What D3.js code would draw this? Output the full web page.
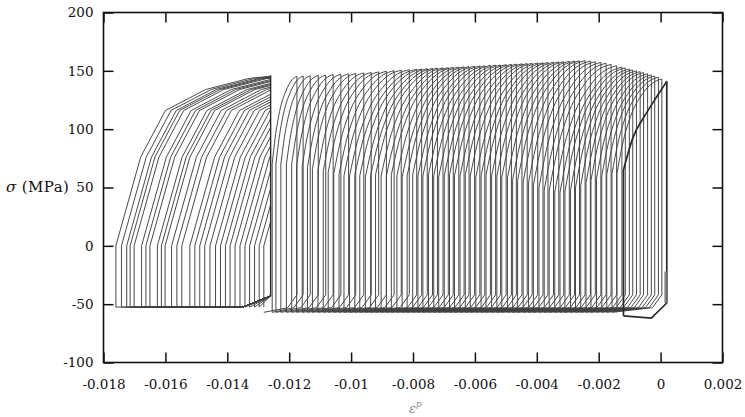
<!DOCTYPE html>
<html>
<head>
<meta charset="utf-8">
<script src="https://cdn.jsdelivr.net/npm/d3@7"></script>
<style>
  body { margin: 0; background: #fff; }
  svg text { font-family: "DejaVu Serif", "Liberation Serif", serif; }
</style>
</head>
<body>
<svg id="chart" width="745" height="417"></svg>
<script>
// ---- axis ticks ----
const xTickValues = [-0.018, -0.016, -0.014, -0.012, -0.01, -0.008, -0.006, -0.004, -0.002, 0, 0.002];
const xTickLabels = ["-0.018", "-0.016", "-0.014", "-0.012", "-0.01", "-0.008", "-0.006", "-0.004", "-0.002", "0", "0.002"];
const yTickValues = [-100, -50, 0, 50, 100, 150, 200];
const yTickLabels = ["-100", "-50", "0", "50", "100", "150", "200"];

// ---- first, stabilised loop (plastic strain, stress in MPa) ----
const firstReloadStrain = [-0.0012, -0.0012];
const firstReloadStress = [-60, 65];
const firstFlowStrain = [-0.0012, -0.00089, -0.0005, -0.00012, 0.0002];
const firstFlowStress = [65, 93, 112, 128, 141];
const firstReturnStrain = [0.0002, 0.0002, -0.0003, -0.0012];
const firstReturnStress = [141, -49, -62, -60];
const startStubStrain = [0.00016, 0.00016];
const startStubStress = [-22, -49];

// ---- ratcheting cycles with narrow loops ----
// plastic strain where tensile flow starts / ends, peak and flow-start stress
const narrowLeft = [
  -0.00141, -0.00157, -0.00174, -0.0019, -0.00207, -0.00225, -0.00241, -0.00258, -0.00275, -0.00291,
  -0.00309, -0.00325, -0.00342, -0.0036, -0.00376, -0.00393, -0.00411, -0.00427, -0.00444, -0.00462,
  -0.00478, -0.00495, -0.00513, -0.00529, -0.00546, -0.00564, -0.0058, -0.00597, -0.00615, -0.00631,
  -0.00648, -0.00666, -0.00682, -0.00699, -0.00717, -0.00733, -0.0075, -0.00768, -0.00784, -0.00801,
  -0.00819, -0.00835, -0.00852, -0.0087, -0.00886, -0.00903, -0.00921, -0.00937, -0.00954, -0.00972,
  -0.00988, -0.01005, -0.01023, -0.01039, -0.01056, -0.01074, -0.0109, -0.01107, -0.01125, -0.01141,
  -0.01158, -0.01176, -0.01192, -0.01209, -0.01227, -0.01243, -0.01255
];
const narrowRight = [
  0.00004, -0.00007, -0.00019, -0.0003, -0.00042, -0.00055, -0.00066, -0.00078, -0.0009, -0.00101,
  -0.00114, -0.00125, -0.00142, -0.0016, -0.00176, -0.00193, -0.00211, -0.00227, -0.00244, -0.00262,
  -0.00278, -0.00295, -0.00313, -0.00329, -0.00346, -0.00364, -0.0038, -0.00397, -0.00415, -0.00431,
  -0.00448, -0.00466, -0.00482, -0.00499, -0.00517, -0.00533, -0.0055, -0.00568, -0.00584, -0.00601,
  -0.00619, -0.00635, -0.00652, -0.0067, -0.00686, -0.00703, -0.00721, -0.00737, -0.00754, -0.00772,
  -0.00788, -0.00812, -0.00838, -0.00861, -0.00886, -0.00911, -0.00935, -0.00959, -0.00985, -0.01008,
  -0.01033, -0.01058, -0.01082, -0.01106, -0.01132, -0.01155, -0.01175
];
const narrowPeak = [
  143, 144.5, 145.5, 146.5, 147.5, 148.5, 149.3, 150, 150.8, 151.6,
  152.5, 153.2, 154.3, 155.5, 156.5, 157.2, 157.8, 158.3, 158.7, 158.5,
  158.3, 158.1, 157.8, 157.6, 157.4, 157.1, 156.9, 156.7, 156.4, 156.2,
  156, 155.7, 155.5, 155.3, 155, 154.8, 154.6, 154.3, 154.1, 153.9,
  153.6, 153.4, 153.2, 152.9, 152.7, 152.5, 152.2, 152, 151.8, 151.5,
  151.3, 150.9, 150.5, 150.1, 149.6, 149.1, 148.6, 148.2, 147.8, 147.4,
  147, 146.7, 146.4, 146.1, 145.8, 145.5, 145.3
];
const narrowYield = [
  62, 62, 61, 60, 58, 56, 54, 52, 50, 48,
  47, 46, 46, 47, 48, 50, 52, 54, 55, 56,
  57, 58, 59, 60, 60, 61, 60, 59, 60, 61,
  60, 60, 61, 60, 59, 60, 61, 60, 60, 61,
  60, 59, 60, 61, 60, 60, 61, 60, 59, 60,
  61, 60, 60, 61, 62, 63, 64, 65, 66, 67,
  68, 69, 70, 70, 70, 70, 70
];
// compressive branch: stress at unloading end, at the knee, at the reloading end
const narrowCompression = [-42, -53, -57];
const narrowKneeOffset = 0.0003;
// normalised shape of the tensile flow curve (strain fraction, stress fraction)
const flowShapeT = [0, 0.12, 0.3, 0.55, 0.8, 1];
const flowShapeS = [0, 0.3, 0.6, 0.83, 0.96, 1];

// ---- later cycles: wide loops sharing one unloading strain ----
const fanLeft = [
  -0.01282, -0.01297, -0.01312, -0.01328, -0.01343, -0.01359, -0.01375, -0.01391, -0.01406, -0.01422,
  -0.01438, -0.01456, -0.01473, -0.01489, -0.01505, -0.01521, -0.01547, -0.01563, -0.0158, -0.01601,
  -0.01613, -0.01626, -0.0165, -0.01663, -0.01677, -0.01701, -0.01714, -0.01725, -0.01742, -0.0176
];
const fanRight = -0.0126;
const fanUnloadStress = [146, -43];
// tensile flow curve measured from the flow-start strain
const fanOffset = [0, 0.0008, 0.0016, 0.0029, 0.0043, 0.0056];
const fanStress = [0, 76, 116, 134, 143.5, 147];
const fanCompression = [-43, -52.5];
const fanKneeOffset = 0.0009;

// ---- layout ----
const svg = d3.select("#chart");
const margin = { left: 103.5, right: 722.5, top: 12.5, bottom: 362.5 };
const x = d3.scaleLinear().domain([-0.018, 0.002]).range([margin.left, margin.right]);
const y = d3.scaleLinear().domain([-100, 200]).range([margin.bottom, margin.top]);

const lineLin = d3.line().x(d => x(d[0])).y(d => y(d[1]));
const lineSmooth = d3.line().x(d => x(d[0])).y(d => y(d[1])).curve(d3.curveMonotoneX);
const pairs = (xs, ys) => xs.map((v, i) => [v, ys[i]]);

svg.append("defs").append("clipPath").attr("id", "fanClip")
  .append("rect")
  .attr("x", 0).attr("y", 0)
  .attr("width", x(fanRight) + 0.4).attr("height", 417);

const loops = svg.append("g").attr("fill", "none")
  .attr("stroke", "#3f3f3f").attr("stroke-width", 0.95);

// narrow ratcheting cycles
narrowLeft.forEach((xl, k) => {
  const xr = narrowRight[k], peak = narrowPeak[k], y0 = narrowYield[k];
  const nextLeft = k + 1 < narrowLeft.length ? narrowLeft[k + 1] : fanLeft[0];
  // elastic reload
  loops.append("path").attr("d", lineLin([[xl, narrowCompression[2]], [xl, y0]]));
  // tensile flow
  const flow = flowShapeT.map((t, i) => [xl + t * (xr - xl), y0 + flowShapeS[i] * (peak - y0)]);
  loops.append("path").attr("d", lineSmooth(flow));
  // elastic unload and compressive flow
  loops.append("path").attr("d", lineLin([
    [xr, peak], [xr, narrowCompression[0]],
    [xr - narrowKneeOffset, narrowCompression[1]],
    [nextLeft, narrowCompression[2]]
  ]));
});

// wide loops on the left
const fanGroup = loops.append("g");
fanLeft.forEach((xl, j) => {
  fanGroup.append("path")
    .attr("clip-path", "url(#fanClip)")
    .attr("d", lineLin([[xl, fanCompression[1]], ...fanOffset.map((o, i) => [xl + o, fanStress[i]])]));
  if (j + 1 < fanLeft.length) {
    const nl = fanLeft[j + 1];
    const knee = Math.max(nl, fanRight - fanKneeOffset);
    fanGroup.append("path").attr("d", lineLin([
      [fanRight, fanCompression[0]], [knee, fanCompression[1]], [nl, fanCompression[1]]
    ]));
  }
});
// shared unloading line of the wide loops
loops.append("path")
  .attr("stroke", "#2a2a2a").attr("stroke-width", 1.4)
  .attr("d", lineLin([[fanRight, fanUnloadStress[0]], [fanRight, fanUnloadStress[1]]]));

// first loop, drawn heavier
const heavy = loops.append("g").attr("stroke", "#2a2a2a").attr("stroke-width", 1.7);
heavy.append("path").attr("d", lineLin(pairs(firstReloadStrain, firstReloadStress)));
heavy.append("path").attr("d", lineSmooth(pairs(firstFlowStrain, firstFlowStress)));
heavy.append("path").attr("d", lineLin(pairs(firstReturnStrain, firstReturnStress)));
loops.append("path")
  .attr("stroke", "#888").attr("stroke-width", 2.4)
  .attr("d", lineLin(pairs(startStubStrain, startStubStress)));

// ---- axes ----
const axisStyle = g => {
  g.select(".domain").remove();
  g.selectAll(".tick line").attr("stroke", "#111").attr("stroke-width", 1.5);
  g.selectAll(".tick text").attr("fill", "#111")
    .style("font-family", "'DejaVu Serif', serif").style("font-size", "13.5px");
};

svg.append("g").attr("transform", `translate(0,${margin.bottom})`)
  .call(d3.axisBottom(x).tickValues(xTickValues).tickFormat((d, i) => xTickLabels[i])
    .tickSize(-10).tickPadding(17))
  .call(axisStyle);
svg.append("g").attr("transform", `translate(0,${margin.top})`)
  .call(d3.axisTop(x).tickValues(xTickValues).tickFormat("").tickSize(-10))
  .call(axisStyle);
svg.append("g").attr("transform", `translate(${margin.left},0)`)
  .call(d3.axisLeft(y).tickValues(yTickValues).tickFormat((d, i) => yTickLabels[i])
    .tickSize(-10).tickPadding(10))
  .call(axisStyle);
svg.append("g").attr("transform", `translate(${margin.right},0)`)
  .call(d3.axisRight(y).tickValues(yTickValues).tickFormat("").tickSize(-10))
  .call(axisStyle);

svg.append("rect")
  .attr("x", margin.left).attr("y", margin.top)
  .attr("width", margin.right - margin.left).attr("height", margin.bottom - margin.top)
  .attr("fill", "none").attr("stroke", "#111").attr("stroke-width", 1.6);

// ---- axis titles ----
const yTitle = svg.append("text").attr("x", 6).attr("y", 192)
  .attr("fill", "#111").style("font-size", "15px").style("letter-spacing", "0.4px");
yTitle.append("tspan").attr("font-style", "italic").text("σ");
yTitle.append("tspan").text(" (MPa)");

const xTitle = svg.append("text").attr("x", 409).attr("y", 413)
  .attr("fill", "#8a8a8a").style("font-size", "13px");
xTitle.append("tspan").attr("font-style", "italic").text("ε");
xTitle.append("tspan").attr("font-style", "italic").attr("dy", -6).style("font-size", "9px").text("p");
</script>
</body>
</html>
